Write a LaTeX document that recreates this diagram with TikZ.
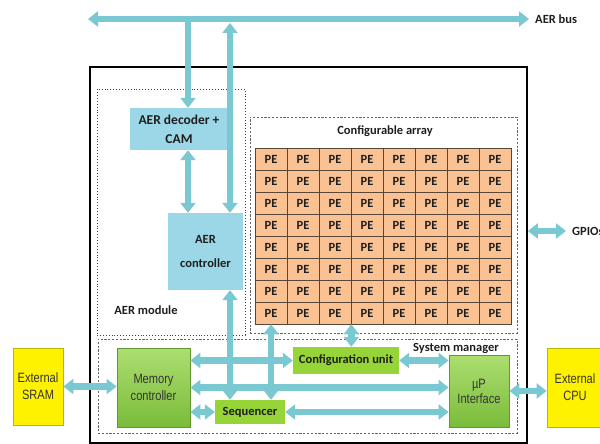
\documentclass[tikz,border=0pt]{standalone}
\usepackage{fontspec}
\setmainfont{Carlito}
\newfontfamily\narrowsf[FakeStretch=0.82]{Liberation Sans}
\usetikzlibrary{arrows.meta,positioning,calc}
\definecolor{buscol}{RGB}{122,200,209}
\definecolor{aerblue}{RGB}{156,215,232}
\definecolor{peorange}{RGB}{250,193,146}
\definecolor{peline}{RGB}{90,70,55}
\definecolor{grtop}{RGB}{172,222,112}
\definecolor{grbot}{RGB}{122,188,58}
\definecolor{grline}{RGB}{100,150,50}
\definecolor{limegr}{RGB}{150,212,55}
\definecolor{ylwline}{RGB}{185,185,0}
\definecolor{txt}{RGB}{30,30,30}
\tikzset{
  sig/.style={line width=6.5pt,draw=buscol,{Triangle[width=15pt,length=10pt]}-{Triangle[width=15pt,length=10pt]}},
  sigin/.style={line width=6.5pt,draw=buscol,-{Triangle[width=15pt,length=10pt]}},
  blk/.style={fill=aerblue,inner sep=0pt,align=center,font=\fontsize{12.5}{19}\selectfont\bfseries},
  pecell/.style={draw=peline,fill=peorange,line width=0.6pt,minimum width=32pt,minimum height=22pt,inner sep=0pt,font=\fontsize{12.5}{14}\selectfont\bfseries},
  grn/.style={draw=grline,line width=0.8pt,top color=grtop,bottom color=grbot,inner sep=0pt,align=center,text=black!80,font=\narrowsf\fontsize{13.5}{17}\selectfont},
  lbox/.style={fill=limegr,inner sep=0pt,align=center,font=\fontsize{12.5}{15}\selectfont\bfseries},
  ylw/.style={draw=ylwline,line width=0.8pt,fill=yellow,inner sep=0pt,align=center,text=black!80,font=\narrowsf\fontsize{13.5}{17}\selectfont},
  dotbox/.style={draw=black!75,dotted,line width=0.9pt},
  dashbox/.style={draw=black!60,line width=0.7pt,dash pattern=on 2.2pt off 1.6pt},
  lbl/.style={font=\fontsize{12.5}{15}\selectfont\bfseries},
}
\begin{document}
\begin{tikzpicture}[x=1pt,y=-1pt,text=txt]
  \useasboundingbox (0,0) rectangle (600,444);
  \node[draw,line width=1.8pt,minimum width=437pt,minimum height=376pt] (chip) at (308.5,255) {};
  \node[dotbox,minimum width=148pt,minimum height=246pt] (aermod) at (171,212) {};
  \node[dashbox,minimum width=267pt,minimum height=216pt] (array) at (383.5,225) {};
  \node[dashbox,minimum width=419pt,minimum height=94pt] (sysman) at (307.5,386) {};
  \node[lbl] (aerlbl) at (146,310) {AER module};
  \node[lbl] (arrlbl) at (385,131) {Configurable array};
  \node[lbl] (smlbl) at (456,348) {System manager};
  \node[blk,minimum width=98pt,minimum height=42pt,font=\fontsize{13.5}{19}\selectfont\bfseries] (dec) at (179,129) {AER decoder +\\CAM};
  \node[blk,minimum width=75pt,minimum height=77pt] (ctrl) at (205.5,251.5) {AER\\[5pt]controller};
  \foreach \r in {1,...,8}
    \foreach \c in {1,...,8}
      \node[pecell] (pe-\r-\c) at (239+32*\c,137+22*\r) {PE};
  \node[grn,minimum width=73pt,minimum height=79pt] (mem) at (153.5,387.5) {Memory\\controller};
  \node[grn,minimum width=60pt,minimum height=72pt,font=\narrowsf\fontsize{13.5}{15}\selectfont] (up) at (479,391) {µP\\Interface};
  \node[lbox,minimum width=106pt,minimum height=27pt] (cfg) at (346,360.5) {Configuration unit};
  \node[lbox,minimum width=70pt,minimum height=24pt] (seq) at (250,412) {Sequencer};
  \node[ylw,minimum width=50pt,minimum height=77pt] (sram) at (38,386.5) {External\\SRAM};
  \node[ylw,minimum width=56pt,minimum height=79pt] (cpu) at (575,387.5) {External\\CPU};
  \coordinate (busL) at (88,19);
  \node[lbl,anchor=west,inner xsep=6pt] (buslbl) at (529,19) {AER bus};
  \node[lbl,anchor=west,inner xsep=6pt] (gpio) at (566,231) {GPIOs};
  \coordinate (xa) at (188,0);
  \coordinate (xb) at (230,0);
  \draw[sig] (busL) -- (buslbl.west);
  \draw[sigin] (xa |- busL) -- (xa |- dec.north);
  \draw[sig] (xa |- dec.south) -- (xa |- ctrl.north);
  \draw[sig] (xb |- ctrl.north) -- ($(xb |- busL)+(0,4)$);
  \draw[sig] (xb |- ctrl.south) -- (xb |- seq.north);
  \draw[sig] (pe-8-1.south) -- (pe-8-1.south |- seq.north);
  \draw[sig] (pe-8-3.south east) -- (pe-8-3.south east |- cfg.north);
  \draw[sig] (chip.east |- gpio) -- (gpio.west);
  \draw[sig] (sram.east) -- (mem.west |- sram.east);
  \draw[sig] (mem.east |- cfg.west) -- (cfg.west);
  \draw[sig] (cfg.east) -- (up.west |- cfg.east);
  \draw[sig] (mem.east) -- (up.west |- mem.east);
  \draw[sig] (mem.east |- seq.west) -- (seq.west);
  \draw[sig] (seq.east) -- (up.west |- seq.east);
  \draw[sig] (up.east) -- (cpu.west |- up.east);
\end{tikzpicture}
\end{document}
